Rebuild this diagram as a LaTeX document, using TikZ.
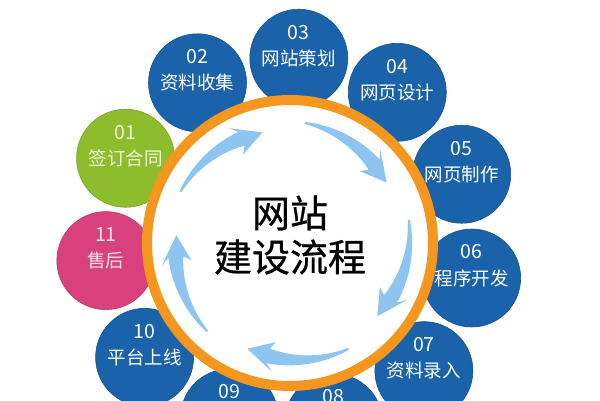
\documentclass[tikz,border=0pt]{standalone}
\usepackage{fontspec}
\setmainfont{Noto Sans CJK SC}
\newfontfamily\titlefont[FakeBold=0.6]{Noto Sans CJK SC}
\definecolor{cblue}{HTML}{1A63AB}
\definecolor{cgreen}{HTML}{8DBD2C}
\definecolor{cpink}{HTML}{D8417B}
\definecolor{corange}{HTML}{F5961E}
\definecolor{carrow}{HTML}{8EC5F0}
\definecolor{tgreen}{HTML}{F2F7D8}
\definecolor{tpink}{HTML}{FBE4EE}
\begin{document}
\begin{tikzpicture}[x=1pt,y=1pt,
  stagecirc/.style={circle, minimum size=98, inner sep=0pt, line width=0.6pt},
  numtext/.style={inner sep=0pt, font=\fontsize{19.5}{22}\selectfont},
  labtext/.style={inner sep=0pt, font=\fontsize{18.5}{22}\selectfont},
  ringcirc/.style={circle, draw=corange, line width=10pt, fill=white, minimum size=286, inner sep=0pt},
  titletext/.style={align=center, inner sep=0pt, font=\titlefont\fontsize{38}{44}\selectfont, text=black},
  flowarrow/.style={fill=carrow}]
\useasboundingbox (-290,-157) rectangle (310,243);
\fill[white] (-290,-157) rectangle (310,243);
\foreach \i/\num/\lab/\col/\tc in {
  1/01/签订合同/cgreen/tgreen,
  2/02/资料收集/cblue/white,
  3/03/网站策划/cblue/white,
  4/04/网页设计/cblue/white,
  5/05/网页制作/cblue/white,
  6/06/程序开发/cblue/white,
  7/07/资料录入/cblue/white,
  8/08//cblue/white,
  9/09//cblue/white,
  10/10/平台上线/cblue/white,
  11/11/售后/cpink/tpink}{
  \pgfmathsetmacro\ang{152.73-32.727*(\i-1)}
  \node[stagecirc, fill=\col, draw=\col!85!black] (c\num) at (\ang:185) {};
  \node[numtext, text=\tc] (n\num) at ([yshift=26]c\num.center) {\num};
  \node[labtext, text=\tc] (l\num) at (c\num.center) {\lab};
}
\node[ringcirc] (ring) at (0,0) {};
\foreach \k in {0,...,4}{
  \pgfmathsetmacro\ta{155-72*\k}
  \fill[flowarrow] plot[domain=0:1, samples=25] ({\ta-40*\x}:{121-6*\x+1+6.5*\x})
    -- ({\ta-37}:{130}) -- ({\ta-51}:{114}) -- ({\ta-37}:{100})
    -- plot[domain=0:1, samples=25] ({\ta-40*(1-\x)}:{121-6*(1-\x)-1-6.5*(1-\x)}) -- cycle;
}
\node[titletext] (title) at (0,8) {网站\\建设流程};
\end{tikzpicture}
\end{document}
